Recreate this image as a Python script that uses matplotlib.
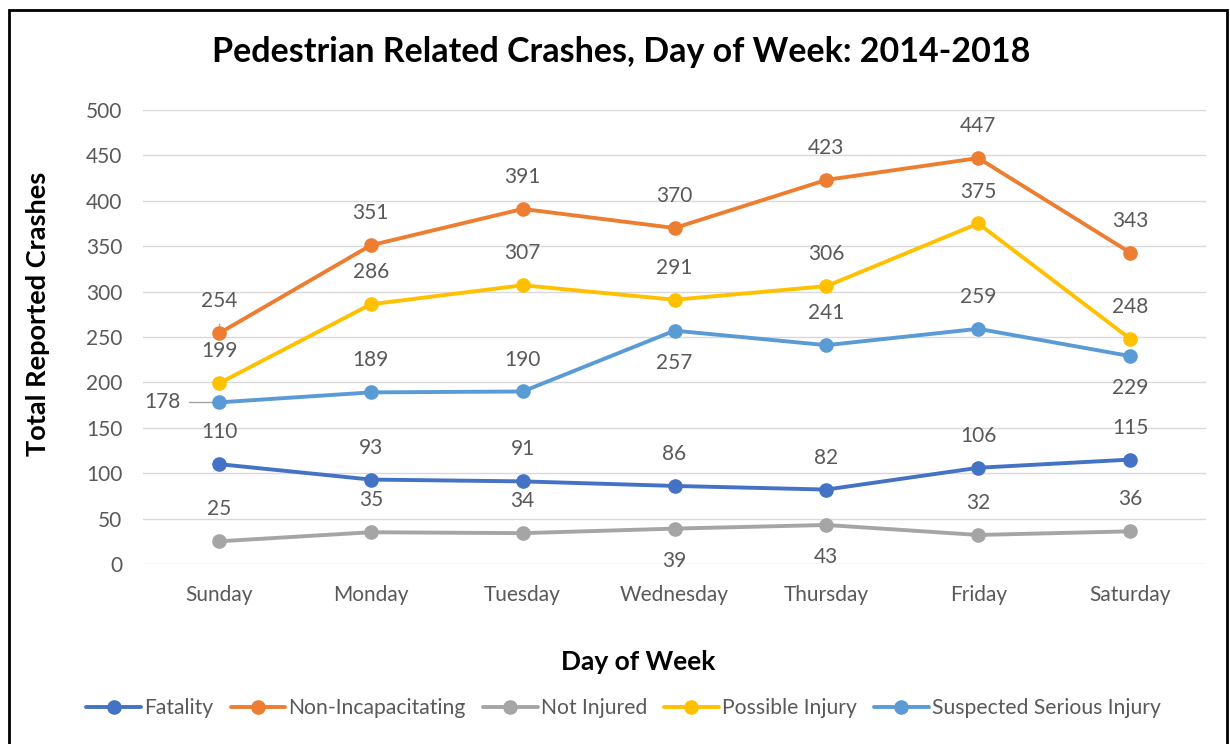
import matplotlib.pyplot as plt
from matplotlib.patches import Rectangle

plt.rcParams["font.family"] = ["Lato", "DejaVu Sans"]

days = ["Sunday", "Monday", "Tuesday", "Wednesday", "Thursday", "Friday", "Saturday"]
fatality = [110, 93, 91, 86, 82, 106, 115]
non_incap = [254, 351, 391, 370, 423, 447, 343]
not_injured = [25, 35, 34, 39, 43, 32, 36]
possible = [199, 286, 307, 291, 306, 375, 248]
serious = [178, 189, 190, 257, 241, 259, 229]

series = [
    ("Fatality", fatality, "#4472C4", ["a"] * 7),
    ("Non-Incapacitating", non_incap, "#ED7D31", ["a"] * 7),
    ("Not Injured", not_injured, "#A5A5A5", ["a", "a", "a", "b", "b", "a", "a"]),
    ("Possible Injury", possible, "#FFC000", ["a"] * 7),
    ("Suspected Serious Injury", serious, "#5B9BD5", ["l", "a", "a", "b", "a", "a", "b"]),
]

txt = "#595959"
fig = plt.figure(figsize=(12.3, 7.44), dpi=100)
ax = fig.add_axes([0.1163, 0.2419, 0.8642, 0.6103])
x = list(range(len(days)))

for name, vals, col, pos in series:
    ax.plot(x, vals, color=col, lw=2.8, marker="o", ms=9.5, label=name,
            solid_capstyle="round", zorder=3)
    for i, v in enumerate(vals):
        if pos[i] == "a":
            off = (0, 23)
        elif pos[i] == "b":
            off = (0, -23)
        else:
            off = (-41, 0)
        ax.annotate(str(v), (i, v), xytext=off, textcoords="offset points",
                    ha="center", va="center", fontsize=15, color=txt, zorder=4)

# leader lines
ax.plot([0, 0], [254, 264], color="#A5A5A5", lw=1, zorder=2)
ax.plot([-0.2, 0], [178, 178], color="#A5A5A5", lw=1, zorder=2)

ax.set_xlim(-0.5, 6.5)
ax.set_ylim(0, 500)
ax.set_yticks(range(0, 501, 50))
ax.set_xticks(x)
ax.set_xticklabels(days)
ax.tick_params(axis="both", length=0, labelsize=15, labelcolor=txt)
ax.tick_params(axis="y", pad=15)
ax.tick_params(axis="x", pad=15)
ax.grid(axis="y", color="#D9D9D9", lw=1)
ax.set_axisbelow(True)
for s in ax.spines.values():
    s.set_visible(False)

ax.set_ylabel("Total Reported Crashes", fontsize=19.5, fontweight="bold")
ax.yaxis.set_label_coords(-0.088, 0.55)
fig.text(0.5185, 0.11, "Day of Week", ha="center", va="center", fontsize=19, fontweight="bold")
fig.text(0.505, 0.93, "Pedestrian Related Crashes, Day of Week: 2014-2018", ha="center", va="center",
         fontsize=24.5, fontweight="bold")

leg = fig.legend(loc="center", bbox_to_anchor=(0.507, 0.048), ncol=5, frameon=False,
                 fontsize=15.2, handlelength=2.6, handletextpad=0.15, columnspacing=0.8)
for t in leg.get_texts():
    t.set_color(txt)

fig.patches.append(Rectangle((0.0075, -0.05), 0.99, 1.037, transform=fig.transFigure,
                             fill=False, edgecolor="black", lw=2))

fig.savefig("out.png", dpi=100, facecolor="white")
